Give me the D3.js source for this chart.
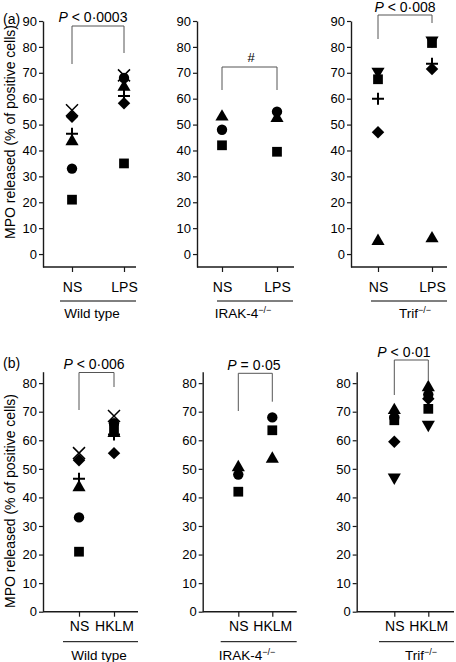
<!DOCTYPE html>
<html>
<head>
<meta charset="utf-8">
<script src="https://cdn.jsdelivr.net/npm/d3@7"></script>
<style>
  html, body { margin: 0; padding: 0; background: #fff; }
  svg { display: block; font-family: "Liberation Sans", Arial, Helvetica, sans-serif; }
</style>
</head>
<body>
<svg id="chart" width="456" height="662"></svg>
<script>
// ---------- data ----------
const categoriesA = ["NS", "LPS"];
const categoriesB = ["NS", "HKLM"];
const yTicksA = [0, 10, 20, 30, 40, 50, 60, 70, 80, 90];
const yTicksB = [0, 10, 20, 30, 40, 50, 60, 70, 80];
const groupNames = ["Wild type", "IRAK-4", "Trif"];
const pLabels = ["< 0·0003", "#", "< 0·008", "< 0·006", "= 0·05", "< 0·01"];

// (a) LPS stimulation
const shapesWT = ["square", "circle", "triangle", "plus", "diamond", "times"];
const aWT_NS  = [21, 33, 43.5, 46.5, 53, 55.5];
const aWT_LPS = [35, 68, 64.5, 61, 58.2, 69];
const shapesIRAK_a = ["square", "circle", "triangle"];
const aIRAK_NS  = [42, 48, 53];
const aIRAK_LPS = [39.5, 55, 52.5];
const shapesTrif_a = ["triangle", "diamond", "plus", "square", "invtriangle"];
const aTrif_NS  = [5, 47, 60, 67.5, 70.5];
const aTrif_LPS = [6, 71.5, 73.5, 81.5, 82.5];

// (b) HKLM stimulation
const bWT_NS   = [21, 33, 43.5, 46.5, 53, 55.5];
const bWT_HKLM = [64, 66, 62.5, 62, 55.5, 68.5];
const shapesIRAK_b = ["square", "circle", "triangle"];
const bIRAK_NS   = [42, 48, 50.5];
const bIRAK_HKLM = [63.5, 68, 53.5];
const shapesTrif_b = ["triangle", "square", "diamond", "invtriangle", "circle"];
const bTrif_NS   = [70.5, 67, 59.5, 47, 68];
const bTrif_HKLM = [78.5, 71, 74.5, 65.5, 76];

// ---------- drawing ----------
const svg = d3.select("#chart");

function shapePath(shape) {
  switch (shape) {
    case "square": return d3.symbol(d3.symbolSquare, 95)();
    case "circle": return d3.symbol(d3.symbolCircle, 85)();
    case "triangle": return d3.symbol(d3.symbolTriangle, 75)();
    case "invtriangle": return d3.symbol(d3.symbolTriangle, 75)();
    case "diamond": return d3.symbol(d3.symbolSquare, 78)();
    case "plus": return "M-6,0L6,0M0,-6L0,6";
    case "times": return "M-6,-6L6,6M-6,6L6,-6";
  }
}
function shapeRotate(shape) {
  if (shape === "invtriangle") return " rotate(180)";
  if (shape === "diamond") return " rotate(45)";
  return "";
}

const sectionA = { yDomain: [-5, 90], yRange: [267, 21], ticks: yTicksA, cats: categoriesA,
  catPad: 10, underlineY: 301, groupY: 318, yLabelCy: 132, panelLabel: "(a)", panelLabelY: 24 };
const sectionB = { yDomain: [0, 84], yRange: [611.7, 371.7], ticks: yTicksB, cats: categoriesB,
  catPad: 4.5, underlineY: 641.7, groupY: 659.5, yLabelCy: 501, panelLabel: "(b)", panelLabelY: 368 };

const panels = [
  { sec: sectionA, axisX: 43, xEnd: 136, catX: [72, 124], ul: [60, 136], gx: 92, group: 0,
    shapes: shapesWT, v0: aWT_NS, v1: aWT_LPS, br: [26, 64, 53], p: 0, pX: 93, pY: 22, pItalic: true },
  { sec: sectionA, axisX: 197, xEnd: 294, catX: [222, 277], ul: [217, 293], gx: 243, group: 1,
    shapes: shapesIRAK_a, v0: aIRAK_NS, v1: aIRAK_LPS, br: [67, 90, 90], p: 1, pX: 251, pY: 62, pItalic: false },
  { sec: sectionA, axisX: 351, xEnd: 447, catX: [378, 432], ul: [371, 447], gx: 415, group: 2,
    shapes: shapesTrif_a, v0: aTrif_NS, v1: aTrif_LPS, br: [15, 39, 23], p: 2, pX: 405, pY: 11.5, pItalic: true },
  { sec: sectionB, axisX: 43, xEnd: 138, catX: [79, 114], ul: [63, 138], gx: 99, group: 0,
    shapes: shapesWT, v0: bWT_NS, v1: bWT_HKLM, br: [372.5, 410, 387], p: 3, pX: 94, pY: 369, pItalic: true },
  { sec: sectionB, axisX: 202.7, xEnd: 296.7, catX: [238.3, 272.3], ul: [220.7, 296.7], gx: 247, group: 1,
    shapes: shapesIRAK_b, v0: bIRAK_NS, v1: bIRAK_HKLM, br: [373.3, 411, 401.7], p: 4, pX: 254, pY: 370, pItalic: true },
  { sec: sectionB, axisX: 356.7, xEnd: 454, catX: [394.3, 428.3], ul: [379, 454], gx: 421, group: 2,
    shapes: shapesTrif_b, v0: bTrif_NS, v1: bTrif_HKLM, br: [360, 395, 380], p: 5, pX: 404, pY: 357, pItalic: true }
];

const axisColor = "#1a1a1a";

panels.forEach(pn => {
  const s = pn.sec;
  const y = d3.scaleLinear().domain(s.yDomain).range(s.yRange);
  const x = d3.scalePoint().domain(s.cats).range(pn.catX);
  const g = svg.append("g");
  const baseY = s.yRange[0];

  // y axis
  const ya = g.append("g").attr("transform", `translate(${pn.axisX},0)`)
    .call(d3.axisLeft(y).tickValues(s.ticks).tickSize(4).tickPadding(2).tickSizeOuter(0));
  ya.select(".domain").attr("stroke", axisColor).attr("stroke-width", 1.4);
  ya.selectAll(".tick line").attr("stroke", axisColor).attr("stroke-width", 1.2);
  ya.selectAll(".tick text").attr("font-size", 13).attr("fill", "#000")
    .attr("font-family", "Liberation Sans, Arial, sans-serif");

  // x axis
  g.append("line").attr("x1", pn.axisX).attr("x2", pn.xEnd).attr("y1", baseY).attr("y2", baseY)
    .attr("stroke", axisColor).attr("stroke-width", 1.4);
  const xa = g.append("g").attr("transform", `translate(0,${baseY})`)
    .call(d3.axisBottom(x).tickSize(5).tickPadding(s.catPad).tickSizeOuter(0));
  xa.select(".domain").remove();
  xa.selectAll(".tick line").attr("stroke", axisColor).attr("stroke-width", 1.2);
  xa.selectAll(".tick text").attr("font-size", 14).attr("fill", "#000")
    .attr("font-family", "Liberation Sans, Arial, sans-serif");

  // underline + group label
  g.append("line").attr("x1", pn.ul[0]).attr("x2", pn.ul[1]).attr("y1", s.underlineY).attr("y2", s.underlineY)
    .attr("stroke", "#000").attr("stroke-width", 1);
  const gt = g.append("text").attr("x", pn.gx).attr("y", s.groupY).attr("text-anchor", "middle")
    .attr("font-size", 13.5).text(groupNames[pn.group]);
  if (pn.group > 0) {
    gt.append("tspan").attr("dy", -5).attr("font-size", 9).text("−/−");
  }

  // bracket
  g.append("path")
    .attr("d", `M${pn.catX[0]},${pn.br[1]}V${pn.br[0]}H${pn.catX[1]}V${pn.br[2]}`)
    .attr("fill", "none").attr("stroke", "#555").attr("stroke-width", 1);
  const pt = g.append("text").attr("x", pn.pX).attr("y", pn.pY).attr("text-anchor", "middle").attr("font-size", 14);
  if (pn.pItalic) {
    pt.append("tspan").attr("font-style", "italic").text("P");
    pt.append("tspan").text(" " + pLabels[pn.p]);
  } else {
    pt.attr("font-size", 13).text(pLabels[pn.p]);
  }

  // points
  const pts = [];
  pn.shapes.forEach((sh, i) => {
    pts.push({ cat: s.cats[0], shape: sh, v: pn.v0[i] });
    pts.push({ cat: s.cats[1], shape: sh, v: pn.v1[i] });
  });
  g.selectAll("path.pt").data(pts).enter().append("path")
    .attr("class", "pt")
    .attr("d", d => shapePath(d.shape))
    .attr("transform", d => `translate(${x(d.cat)},${y(d.v)})` + shapeRotate(d.shape))
    .attr("fill", d => (d.shape === "plus" || d.shape === "times") ? "none" : "#000")
    .attr("stroke", d => (d.shape === "plus" || d.shape === "times") ? "#000" : "none")
    .attr("stroke-width", d => d.shape === "plus" ? 2 : 1.5);
});

// section labels and y-axis titles
[sectionA, sectionB].forEach(s => {
  svg.append("text").attr("x", 3).attr("y", s.panelLabelY).attr("font-size", 14).text(s.panelLabel);
  svg.append("text").attr("transform", `translate(15,${s.yLabelCy}) rotate(-90)`)
    .attr("text-anchor", "middle").attr("font-size", 14)
    .text("MPO released (% of positive cells)");
});
</script>
</body>
</html>
